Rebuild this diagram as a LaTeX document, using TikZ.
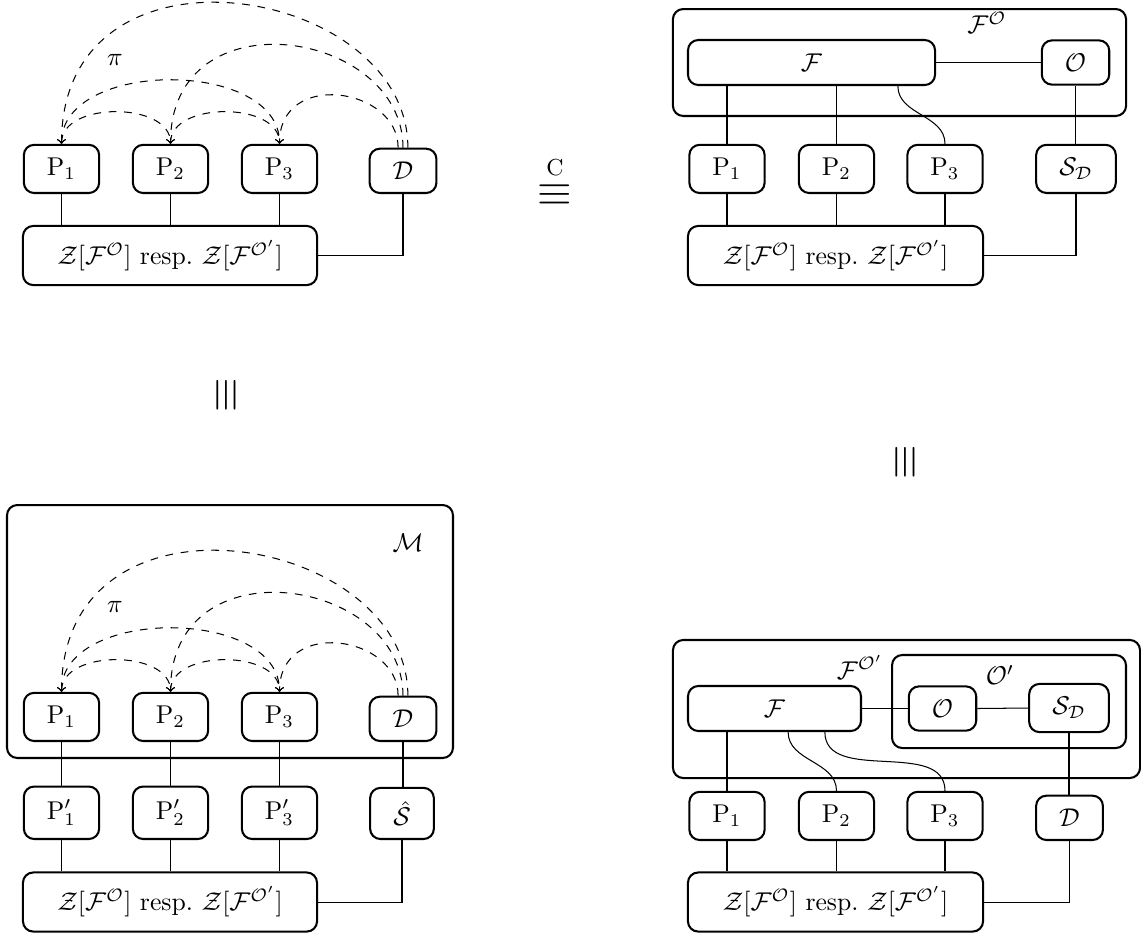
\documentclass[tikz,border=0pt]{standalone}
\usepackage{amsmath,amssymb}
\usetikzlibrary{positioning,calc,arrows}

\newcommand{\zresp}{$\mathcal{Z}[\mathcal{F}^{\mathcal{O}}]$ resp.\ $\mathcal{Z}[\mathcal{F}^{\mathcal{O}'}]$}

\tikzset{
	box/.style={draw, thick, rounded corners, inner xsep=9pt, inner ysep=5.2pt},
	grp/.style={draw, thick, rounded corners, inner sep=0pt},
	link/.style={thin},
	arc/.style={dashed, thin},
}

\begin{document}
\begin{tikzpicture}[x=0.389pt, y=-0.389pt]
	\useasboundingbox (0,0) rectangle (1141,934);

	% top left
	\node[box, anchor=south] (a1) at (61.5,194) {$\mathrm{P}_1$};
	\node[box, anchor=south] (a2) at (170.5,194) {$\mathrm{P}_2$};
	\node[box, anchor=south] (a3) at (279.5,194) {$\mathrm{P}_3$};
	\node[box, anchor=south] (a4) at (403,194) {$\mathcal{D}$};
	\node[box, minimum width=114.4pt, minimum height=23pt] (aZ) at (170,255.5) {\zresp};
	\node (api) at (115,60) {$\pi$};

	% top right
	\node[grp, minimum width=176.3pt, minimum height=41.6pt] (bFO) at (899.5,62.5) {};
	\node (bFOl) at (987,23) {$\mathcal{F}^{\mathcal{O}}$};
	\node[box, minimum width=96.1pt, minimum height=17.5pt] (bF) at (811.5,62.5) {$\mathcal{F}$};
	\node[box] (bO) at (1075.5,62.5) {$\mathcal{O}$};
	\node[box, anchor=south] (b1) at (727,194) {$\mathrm{P}_1$};
	\node[box, anchor=south] (b2) at (836.5,194) {$\mathrm{P}_2$};
	\node[box, anchor=south] (b3) at (945,194) {$\mathrm{P}_3$};
	\node[box, anchor=south] (bS) at (1076,194) {$\mathcal{S}_{\mathcal{D}}$};
	\node[box, minimum width=114.8pt, minimum height=23pt] (bZ) at (835.5,255.5) {\zresp};

	% bottom left
	\node[grp, minimum width=173.5pt, minimum height=98.4pt] (cM) at (230,631.5) {};
	\node (cMl) at (408,543) {$\mathcal{M}$};
	\node (cpi) at (115,607) {$\pi$};
	\node[box, anchor=south] (c1) at (61.5,742) {$\mathrm{P}_1$};
	\node[box, anchor=south] (c2) at (170.5,742) {$\mathrm{P}_2$};
	\node[box, anchor=south] (c3) at (279.5,742) {$\mathrm{P}_3$};
	\node[box, anchor=south] (c4) at (403,742) {$\mathcal{D}$};
	\node[box, anchor=south] (cQ1) at (61.5,840) {$\mathrm{P}'_1$};
	\node[box, anchor=south] (cQ2) at (170.5,840) {$\mathrm{P}'_2$};
	\node[box, anchor=south] (cQ3) at (279.5,840) {$\mathrm{P}'_3$};
	\node[box, anchor=south] (cS) at (402,840) {$\hat{\mathcal{S}}$};
	\node[box, minimum width=114.4pt, minimum height=23pt] (cZ) at (170,902) {\zresp};

	% bottom right
	\node[grp, minimum width=181.7pt, minimum height=53.7pt] (dFO) at (906.5,709) {};
	\node (dFOl) at (860,667) {$\mathcal{F}^{\mathcal{O}'}$};
	\node[grp, minimum width=91pt, minimum height=36.2pt] (dOp) at (1009,701.5) {};
	\node (dOpl) at (1000,675) {$\mathcal{O}'$};
	\node[box, minimum width=67.3pt, minimum height=17.5pt] (dF) at (774.5,708.5) {$\mathcal{F}$};
	\node[box] (dO) at (942.5,708.5) {$\mathcal{O}$};
	\node[box] (dS) at (1069,708) {$\mathcal{S}_{\mathcal{D}}$};
	\node[box, anchor=south] (d1) at (727,841) {$\mathrm{P}_1$};
	\node[box, anchor=south] (d2) at (836.5,841) {$\mathrm{P}_2$};
	\node[box, anchor=south] (d3) at (945,841) {$\mathrm{P}_3$};
	\node[box, anchor=south] (dD) at (1069.5,841) {$\mathcal{D}$};
	\node[box, minimum width=114.8pt, minimum height=23pt] (dZ) at (835.5,902) {\zresp};

	% equivalences
	\node (eqC) at (555,180) {\LARGE$\overset{\text{\small C}}{\equiv}$};
	\node[rotate=90] (eqL) at (227,395) {\LARGE$\equiv$};
	\node[rotate=90] (eqR) at (906,462) {\LARGE$\equiv$};

	% dashed arcs
	\foreach \p in {a,c} {
		\draw[arc,<->] (\p1.north) to[out=90,in=90] (\p2.north);
		\draw[arc,<->] (\p2.north) to[out=90,in=90] (\p3.north);
		\draw[arc,<->] (\p1.north) to[out=90,in=90] (\p3.north);
		\draw[arc,->] ([xshift=1.9pt]\p4.north) to[out=90,in=90,out looseness=1.2,in looseness=1.6] (\p1.north);
		\draw[arc,->] (\p4.north) to[out=90,in=90,out looseness=1.3,in looseness=1.65] (\p2.north);
		\draw[arc,->] ([xshift=-1.9pt]\p4.north) to[out=90,in=90,out looseness=1.3,in looseness=1.6] (\p3.north);
	}

	% links top left
	\draw[link] (a1.south) -- (a1.south |- aZ.north);
	\draw[link] (a2.south) -- (a2.south |- aZ.north);
	\draw[link] (a3.south) -- (a3.south |- aZ.north);
	\draw[link] (a4.south) |- (aZ.east);

	% links top right
	\draw[link] (bF.east) -- (bO.west);
	\draw[link] (bF.south -| b1.north) -- (b1.north);
	\draw[link] (bF.south -| b2.north) -- (b2.north);
	\draw[link] ([xshift=33.6pt]bF.south) to[out=-90,in=90] (b3.north);
	\draw[link] (bO.south) -- (bO.south |- bS.north);
	\draw[link] (b1.south) -- (b1.south |- bZ.north);
	\draw[link] (b2.south) -- (b2.south |- bZ.north);
	\draw[link] (b3.south) -- (b3.south |- bZ.north);
	\draw[link] (bS.south) |- (bZ.east);

	% links bottom left
	\draw[link] (c1.south) -- (cQ1.north);
	\draw[link] (c2.south) -- (cQ2.north);
	\draw[link] (c3.south) -- (cQ3.north);
	\draw[link] (c4.south) -- (c4.south |- cS.north);
	\draw[link] (cQ1.south) -- (cQ1.south |- cZ.north);
	\draw[link] (cQ2.south) -- (cQ2.south |- cZ.north);
	\draw[link] (cQ3.south) -- (cQ3.south |- cZ.north);
	\draw[link] (cS.south) |- (cZ.east);

	% links bottom right
	\draw[link] (dF.east) -- (dO.west);
	\draw[link] (dO.east) -- (dS.west);
	\draw[link] (dF.south -| d1.north) -- (d1.north);
	\draw[link] ([xshift=5.3pt]dF.south) to[out=-90,in=90] (d2.north);
	\draw[link] ([xshift=19.6pt]dF.south) to[out=-90,in=90] (d3.north);
	\draw[link] (dS.south) -- (dS.south |- dD.north);
	\draw[link] (d1.south) -- (d1.south |- dZ.north);
	\draw[link] (d2.south) -- (d2.south |- dZ.north);
	\draw[link] (d3.south) -- (d3.south |- dZ.north);
	\draw[link] (dD.south) |- (dZ.east);
\end{tikzpicture}
\end{document}
